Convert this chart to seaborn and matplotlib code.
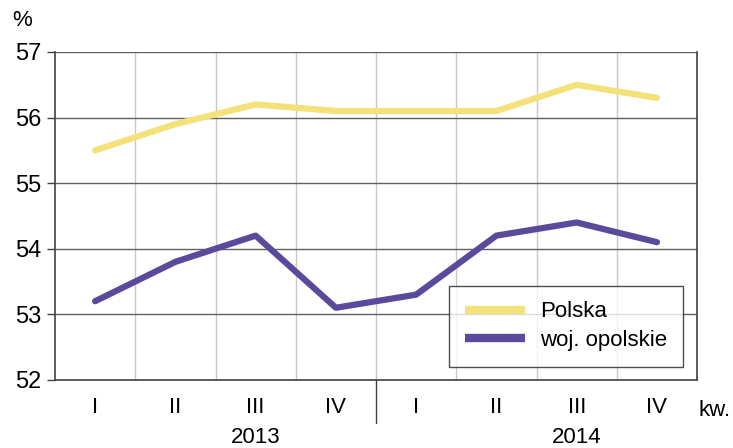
import numpy as np
import pandas as pd
import matplotlib.pyplot as plt
import seaborn as sns

quarters = ['I', 'II', 'III', 'IV', 'I', 'II', 'III', 'IV']
years = ['2013', '2014']
polska = [55.5, 55.9, 56.2, 56.1, 56.1, 56.1, 56.5, 56.3]
opolskie = [53.2, 53.8, 54.2, 53.1, 53.3, 54.2, 54.4, 54.1]

df = pd.DataFrame({
    'pos': list(range(8)) * 2,
    'val': polska + opolskie,
    'seria': ['Polska'] * 8 + ['woj. opolskie'] * 8,
})

sns.set_style('white')
plt.rcParams['font.family'] = ['Liberation Sans', 'DejaVu Sans']
plt.rcParams['text.color'] = 'black'
plt.rcParams['xtick.color'] = 'black'
plt.rcParams['ytick.color'] = 'black'

fig = plt.figure(figsize=(7.33, 4.48), dpi=100)
ax = fig.add_axes([0.075, 0.152, 0.876, 0.732])

# grid
for k in range(1, 8):
    ax.axvline(k - 0.5, color='#c8c8c8', lw=1, zorder=0)
for v in range(53, 58):
    ax.axhline(v, color='#606060', lw=1, zorder=0)

sns.lineplot(data=df, x='pos', y='val', hue='seria', ax=ax,
             palette=['#F5E17A', '#5B4A9B'], linewidth=4.5, legend=True)

ax.set_xlim(-0.5, 7.5)
ax.set_ylim(52, 57)
ax.set_yticks(range(52, 58))
ax.set_yticklabels([str(v) for v in range(52, 58)], fontsize=17)
ax.tick_params(axis='y', length=6, width=1, color='#404040', pad=4, left=True)
ax.set_xticks(range(8))
ax.set_xticklabels(quarters, fontsize=16)
ax.tick_params(axis='x', length=0, pad=12)
ax.set_xlabel('')
ax.set_ylabel('')
for s in ['left', 'bottom', 'right']:
    ax.spines[s].set_color('#404040')
    ax.spines[s].set_linewidth(1.2)
ax.spines['top'].set_visible(False)

# year separator below axis
ax.plot([3.5, 3.5], [52, 51.35], color='#404040', lw=1, clip_on=False)
xt = ax.get_xaxis_transform()
ax.text(2.0, -0.175, years[0], transform=xt, ha='center', va='center', fontsize=16)
ax.text(6.0, -0.175, years[1], transform=xt, ha='center', va='center', fontsize=16)
ax.text(7.72, -0.093, 'kw.', transform=xt, ha='center', va='center', fontsize=16)
fig.text(0.03, 0.955, '%', ha='center', va='center', fontsize=16)

leg = ax.legend(loc='lower right', bbox_to_anchor=(0.978, 0.04), fontsize=16,
                frameon=True, fancybox=False, handlelength=2.7, borderpad=0.7,
                labelspacing=0.35, handletextpad=0.7, borderaxespad=0)
leg.get_frame().set_edgecolor('#202020')
leg.get_frame().set_linewidth(1)
for h in leg.get_lines():
    h.set_linewidth(6)
    h.set_solid_capstyle('butt')

fig.savefig('out.png', dpi=100)
